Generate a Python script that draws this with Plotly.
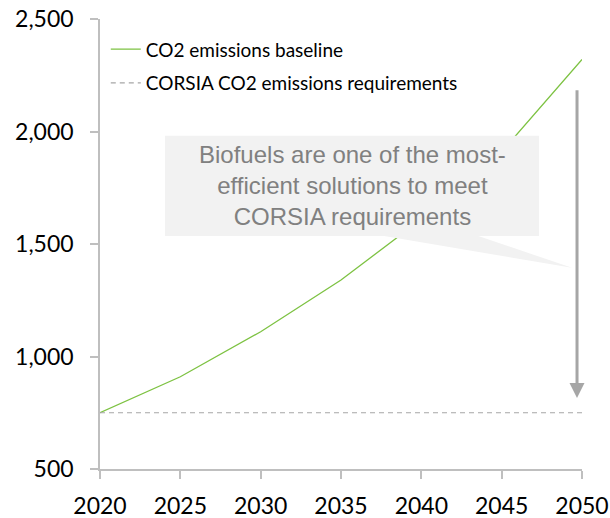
import plotly.graph_objects as go

# CO2 emissions from international aviation (Mt), 2020-2050
years = [2020, 2025, 2030, 2035, 2040, 2045, 2050]
baseline = [750, 910, 1110, 1340, 1610, 1910, 2320]
corsia_cap = [750, 750, 750, 750, 750, 750, 750]

y_ticks = [500, 1000, 1500, 2000, 2500]
x_ticks = [2020, 2025, 2030, 2035, 2040, 2045, 2050]

callout_text = "Biofuels are one of the most-<br>efficient solutions to meet<br>CORSIA requirements"

AXIS_GREY = "#bfbfbf"
TICK_FONT = dict(family="Lato", size=23, color="#000000")

fig = go.Figure()

fig.add_trace(go.Scatter(
    x=years, y=baseline, mode="lines",
    name="CO2 emissions baseline",
    line=dict(color="#7dc242", width=1.3),
    legendgroup="a", cliponaxis=False,
))
fig.add_trace(go.Scatter(
    x=years, y=corsia_cap, mode="lines",
    name="CORSIA CO2 emissions requirements",
    line=dict(color="#a6a6a6", width=1.2, dash="5px,4px"),
    legendgroup="b", cliponaxis=False,
))

# Speech-bubble callout (box + tail), drawn over the baseline curve
fig.add_shape(type="rect", xref="x", yref="y",
              x0=2024.05, x1=2047.32, y0=1536, y1=1981,
              fillcolor="#f2f2f2", line=dict(width=0), layer="above")
fig.add_shape(type="path", xref="x", yref="y",
              path="M 2037.6 1537 L 2049.38 1394 L 2043.5 1537 Z",
              fillcolor="#f2f2f2", line=dict(width=0), layer="above")
fig.add_annotation(x=2035.7, y=1760, xref="x", yref="y",
                   text=callout_text, showarrow=False,
                   font=dict(family="Liberation Sans, Arial", size=24, color="#808080"),
                   align="center")

# Downward arrow from baseline level to the CORSIA requirement
fig.add_annotation(x=2049.69, y=816, ax=2049.69, ay=2190,
                   xref="x", yref="y", axref="x", ayref="y",
                   text="", showarrow=True, arrowhead=2, arrowsize=1,
                   arrowwidth=3, arrowcolor="#a6a6a6", standoff=0)

fig.update_layout(
    width=610, height=518,
    margin=dict(l=100, r=28, t=19, b=49, autoexpand=False),
    paper_bgcolor="white", plot_bgcolor="white",
    showlegend=True,
    legend=dict(x=0.012, y=0.975, xanchor="left", yanchor="top",
                bgcolor="rgba(0,0,0,0)",
                font=dict(family="Lato", size=19, color="#000000"),
                traceorder="grouped", tracegroupgap=6),
)

fig.update_xaxes(
    range=[2020, 2050], tickvals=x_ticks, tickformat="d",
    showline=True, linecolor=AXIS_GREY, linewidth=1.5,
    ticks="outside", ticklen=8, tickcolor=AXIS_GREY, tickwidth=1.5,
    showgrid=False, zeroline=False, tickfont=TICK_FONT,
    ticklabelstandoff=8, automargin=False,
)
fig.update_yaxes(
    range=[500, 2500], tickvals=y_ticks, tickformat=",",
    showline=True, linecolor=AXIS_GREY, linewidth=1.5,
    ticks="outside", ticklen=8, tickcolor=AXIS_GREY, tickwidth=1.5,
    showgrid=False, zeroline=False, tickfont=TICK_FONT,
    ticklabelstandoff=12, automargin=False,
)

fig.write_html("out.html")
